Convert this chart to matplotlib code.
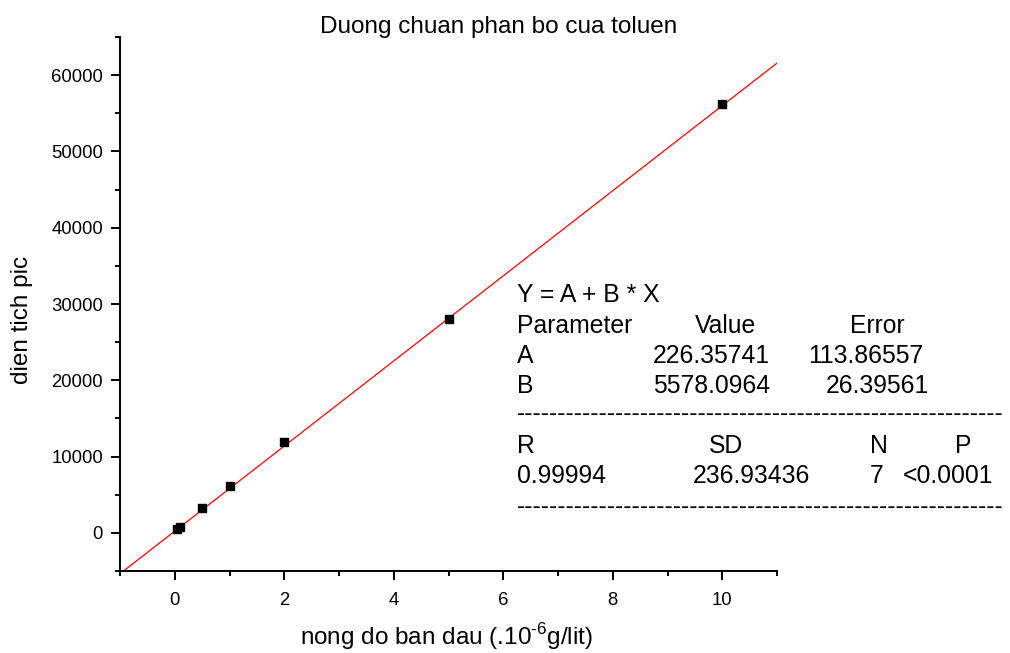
import matplotlib
matplotlib.use("Agg")
import matplotlib.pyplot as plt
import numpy as np

plt.rcParams['font.family'] = ['Liberation Sans', 'DejaVu Sans']
plt.rcParams['mathtext.fontset'] = 'custom'
plt.rcParams['mathtext.rm'] = 'Liberation Sans'

# Data
conc = [0.05, 0.1, 0.5, 1, 2, 5, 10]
area = [500, 800, 3200, 6100, 11900, 28000, 56250]
fit_A = 226.35741
fit_B = 5578.0964
fit_range = [-1, 11]
xticks = [0, 2, 4, 6, 8, 10]
yticks = [0, 10000, 20000, 30000, 40000, 50000, 60000]

W, H = 1010, 653
fig = plt.figure(figsize=(W / 100, H / 100), dpi=100)
ax = fig.add_axes([120 / W, 1 - 571 / H, (777 - 120) / W, (571 - 37) / H])

xf = np.array(fit_range, dtype=float)
ax.plot(xf, fit_A + fit_B * xf, color='#ff0000', lw=0.9, zorder=2)
ax.plot(conc, area, ls='none', marker='s', ms=5.3, color='black', zorder=3)

ax.set_xlim(-1, 11)
ax.set_ylim(-5000, 65000)
ax.set_xticks(xticks)
ax.set_yticks(yticks)
ax.set_xticks(np.arange(-1, 11.5, 1), minor=True)
ax.set_yticks(np.arange(-5000, 65001, 5000), minor=True)
for s in ['top', 'right']:
    ax.spines[s].set_visible(False)
for s in ['left', 'bottom']:
    ax.spines[s].set_linewidth(1.4)
ax.tick_params(which='major', direction='out', length=6.3, width=1.4, labelsize=13.3, pad=6)
ax.tick_params(axis='x', which='major', pad=9)
ax.tick_params(which='minor', direction='out', length=3.5, width=1.4)

fig.text(499 / W, 1 - 33 / H, 'Duong chuan phan bo cua toluen', fontsize=17.5,
         ha='center', va='baseline')
fig.text(446 / W, 1 - 645 / H, 'nong do ban dau (.10$^{\\mathregular{\u20106}}$g/lit)',
         fontsize=17.5, ha='center', va='baseline')
fig.text(22 / W, 1 - 320 / H, 'dien tich pic', fontsize=17.5, rotation=90,
         ha='center', va='center')

fs = 17.8
def T(x, y, s):
    fig.text(x / W, 1 - y / H, s, fontsize=fs, ha='left', va='baseline')

T(517, 302, 'Y = A + B * X')
T(517, 333, 'Parameter'); T(695, 333, 'Value'); T(850, 333, 'Error')
T(517, 363, 'A'); T(653, 363, '226.35741'); T(808, 363, '113.86557')
T(517, 393, 'B'); T(653, 393, '5578.0964'); T(826, 393, '26.39561')
T(517, 421, '-' * 59)
T(517, 453, 'R'); T(709, 453, 'SD'); T(870, 453, 'N'); T(955, 453, 'P')
T(517, 483, '0.99994'); T(693, 483, '236.93436'); T(870, 483, '7'); T(903, 483, '<0.0001')
T(517, 514, '-' * 59)

fig.savefig('out.png', dpi=100)
